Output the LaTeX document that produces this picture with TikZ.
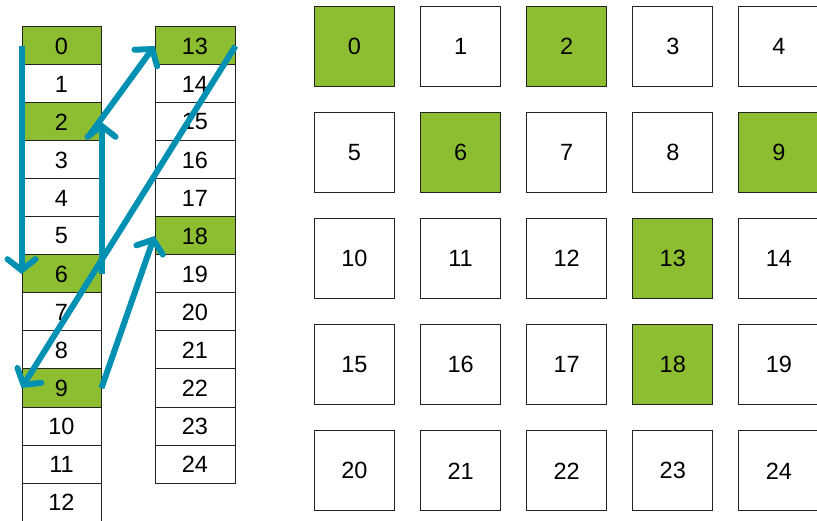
\documentclass[tikz,border=0pt]{standalone}
\usepackage{fontspec}
\setmainfont{Liberation Sans}
\usetikzlibrary{calc,arrows.meta}
\definecolor{CellGreen}{RGB}{141,190,50}
\definecolor{HopTeal}{RGB}{0,144,178}
\definecolor{CellEdge}{RGB}{35,35,35}

\tikzset{
  cell/.style={draw=CellEdge,line width=1pt,minimum width=79pt,minimum height=38pt,
    inner sep=0pt,font=\fontsize{23.5}{24}\selectfont},
  square/.style={cell,minimum width=80pt,minimum height=80pt},
  hop/.style={HopTeal,line width=6pt,
    -{Straight Barb[length=11pt,width=28pt,line cap=round]}}
}

\begin{document}
\begin{tikzpicture}[x=1pt,y=-1pt]
  \useasboundingbox (0,0) rectangle (817,521);

  % first column 0..12
  \foreach \i in {0,...,12} {
    \pgfmathtruncatemacro\g{100*((\i==0)||(\i==2)||(\i==6)||(\i==9))}
    \node[cell,fill=CellGreen!\g!white] (c\i) at (61.5,{46+38*\i}) {\i};
  }
  % second column 13..24
  \foreach \i in {13,...,24} {
    \pgfmathtruncatemacro\g{100*((\i==13)||(\i==18))}
    \node[cell,minimum width=80pt,fill=CellGreen!\g!white] (d\i) at (195,{46+38*(\i-13)}) {\i};
  }

  % 5x5 grid
  \foreach \i in {0,...,24} {
    \pgfmathtruncatemacro\col{mod(\i,5)}
    \pgfmathtruncatemacro\row{floor(\i/5)}
    \pgfmathtruncatemacro\g{100*((\i==0)||(\i==2)||(\i==6)||(\i==9)||(\i==13)||(\i==18))}
    \node[square,fill=CellGreen!\g!white] (g\i) at ({354.5+106.1*\col},{46.5+106.1*\row}) {\i};
  }

  % hops between the green cells
  \draw[hop] (c0.west) -- (c6.west);
  \draw[hop] (c6.east) -- (c2.east);
  \draw[hop] ($(c2.south east)+(-13,-5)$) -- (d13.west);
  \draw[hop] (d13.east) -- (c9.west);
  \draw[hop] (c9.east) -- (d18.west);
\end{tikzpicture}
\end{document}
